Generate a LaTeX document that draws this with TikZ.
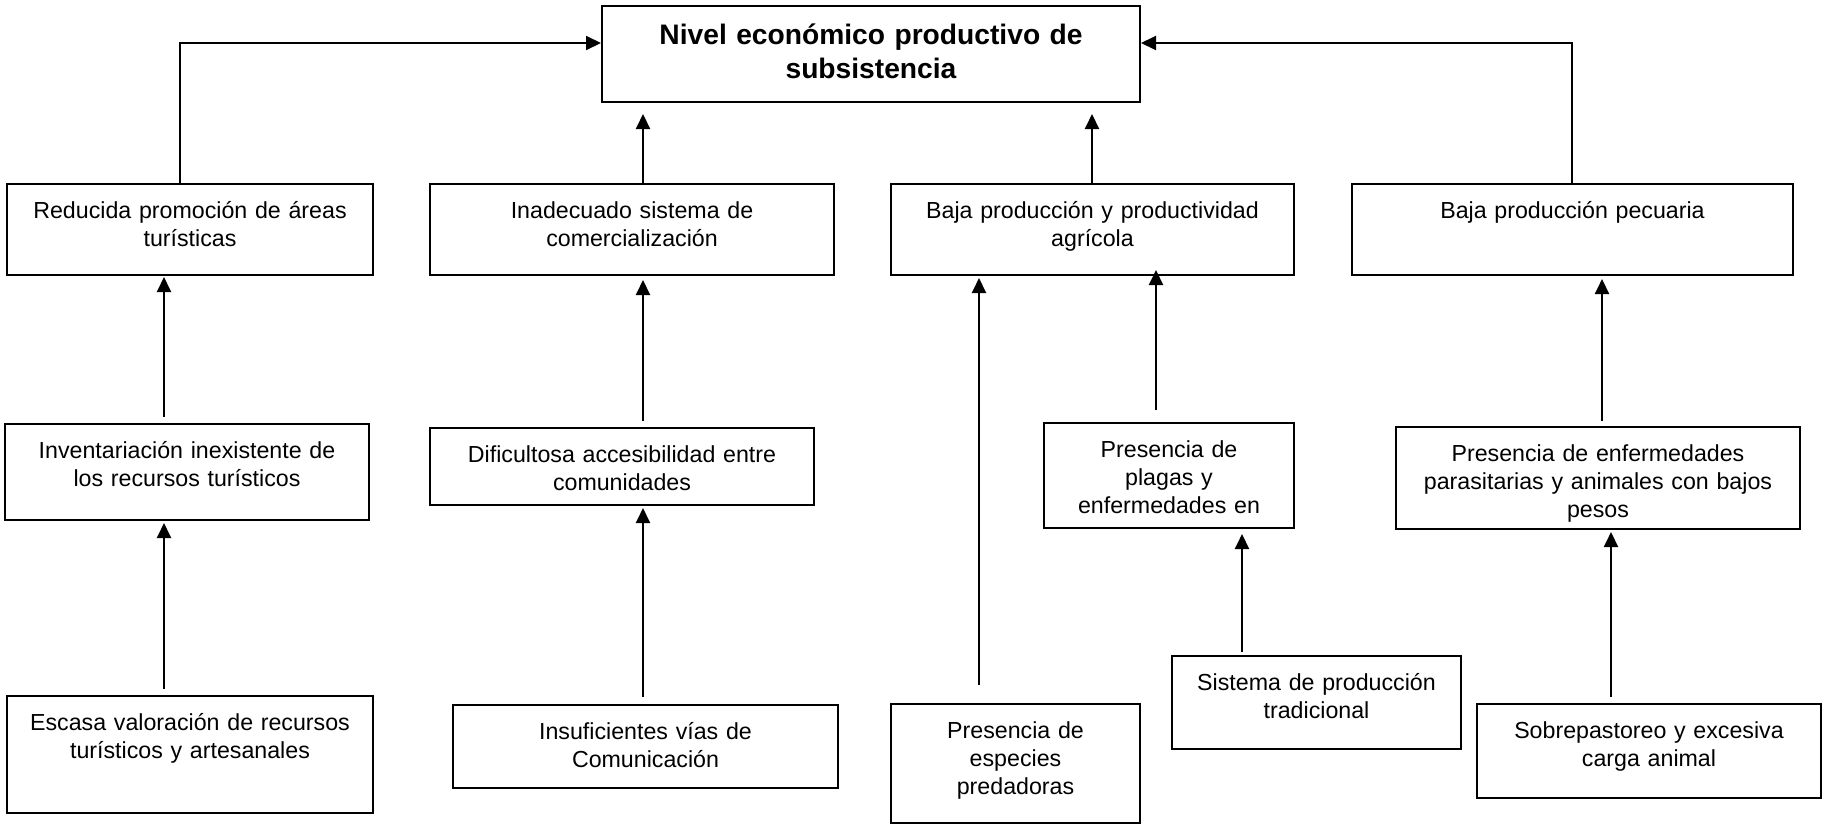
\documentclass[tikz,border=0pt]{standalone}
\usepackage{fontspec}
\setmainfont{Liberation Sans}
\usetikzlibrary{arrows.meta}

\begin{document}
\begin{tikzpicture}[x=1pt,y=-1pt,
  caja/.style 2 args={draw, line width=2pt, anchor=north west, inner sep=0pt, align=center,
    text width=#1, text height=34pt, text depth=#2, font=\fontsize{23.2}{28}\selectfont},
  flecha/.style={line width=2pt, -{Triangle[length=15pt,width=14pt]}, shorten <=6pt, shorten >=2pt}]
\useasboundingbox (0,0) rectangle (1822,823);

\node[caja={538pt}{58pt}, text height=38pt, font=\fontsize{28.2}{34}\bfseries] (nivel) at (601,5) {Nivel económico productivo de\\subsistencia};

\node[caja={366pt}{57pt}] (promo) at (6,183) {Reducida promoción de áreas\\turísticas};
\node[caja={404pt}{57pt}] (comerc) at (429,183) {Inadecuado sistema de\\comercialización};
\node[caja={403pt}{57pt}] (agri) at (890,183) {Baja producción y productividad\\agrícola};
\node[caja={441pt}{57pt}] (pecu) at (1351,183) {Baja producción pecuaria};

\node[caja={364pt}{62pt}] (invent) at (4,423) {Inventariación inexistente de\\los recursos turísticos};
\node[caja={384pt}{43pt}] (acces) at (429,427) {Dificultosa accesibilidad entre\\comunidades};
\node[caja={250pt}{71pt}] (plagas) at (1043,422) {Presencia de\\plagas y\\enfermedades en};
\node[caja={404pt}{68pt}] (enferm) at (1395,426) {Presencia de enfermedades\\parasitarias y animales con bajos\\pesos};

\node[caja={366pt}{83pt}] (valora) at (6,695) {Escasa valoración de recursos\\turísticos y artesanales};
\node[caja={385pt}{49pt}] (vias) at (452,704) {Insuficientes vías de\\Comunicación};
\node[caja={249pt}{85pt}] (preda) at (890,703) {Presencia de\\especies\\predadoras};
\node[caja={289pt}{59pt}] (sistema) at (1171,655) {Sistema de producción\\tradicional};
\node[caja={344pt}{60pt}] (sobrep) at (1476,703) {Sobrepastoreo y excesiva\\carga animal};

\coordinate (codoA) at (180,43);
\coordinate (codoD) at (1572,43);
\coordinate (xA) at (164,0);
\coordinate (xB) at (643,0);
\coordinate (xC) at (1092,0);
\coordinate (xCa) at (979,0);
\coordinate (xCb) at (1156,0);
\coordinate (xCc) at (1242,0);
\coordinate (xD) at (1602,0);
\coordinate (xDb) at (1611,0);

\draw[flecha, shorten <=0pt, shorten >=0pt] (promo.north -| codoA) -- (codoA) -- (codoA -| nivel.west);
\draw[flecha, shorten <=0pt, shorten >=0pt] (pecu.north -| codoD) -- (codoD) -- (codoD -| nivel.east);
\draw[flecha, shorten <=0pt, shorten >=11pt] (comerc.north -| xB) -- (nivel.south -| xB);
\draw[flecha, shorten <=0pt, shorten >=11pt] (agri.north -| xC) -- (nivel.south -| xC);

\draw[flecha, shorten >=1pt] (invent.north -| xA) -- (promo.south -| xA);
\draw[flecha] (valora.north -| xA) -- (invent.south -| xA);
\draw[flecha, shorten >=4pt] (acces.north -| xB) -- (comerc.south -| xB);
\draw[flecha, shorten <=7pt] (vias.north -| xB) -- (acces.south -| xB);
\draw[flecha, shorten <=18pt] (preda.north -| xCa) -- (agri.south -| xCa);
\draw[flecha, shorten <=12pt, shorten >=-6pt] (plagas.north -| xCb) -- (agri.south -| xCb);
\draw[flecha, shorten <=3pt, shorten >=5pt] (sistema.north -| xCc) -- (plagas.south -| xCc);
\draw[flecha, shorten <=5pt, shorten >=3pt] (enferm.north -| xD) -- (pecu.south -| xD);
\draw[flecha] (sobrep.north -| xDb) -- (enferm.south -| xDb);
\end{tikzpicture}
\end{document}
